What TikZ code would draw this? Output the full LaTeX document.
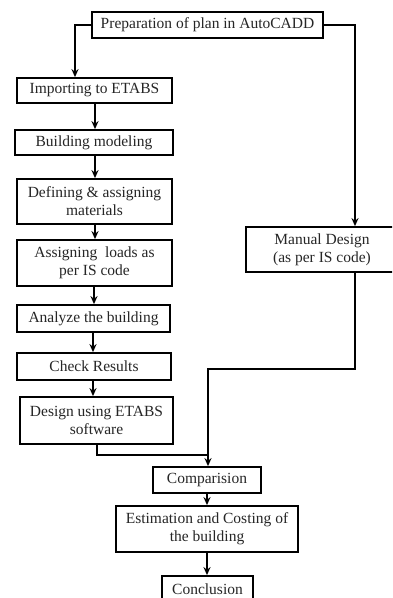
\documentclass[tikz,border=0pt]{standalone}
\usepackage{fontspec}
\setmainfont{Liberation Serif}
\usetikzlibrary{arrows.meta}
\begin{document}
\begin{tikzpicture}[x=1pt,y=-1pt,
  box/.style={draw=black,line width=1.8pt,fill=white,align=center,inner sep=2pt,
    text=black!85,font=\fontsize{15.5}{18}\selectfont},
  one/.style={box,minimum height=26pt},
  two/.style={box,minimum height=46pt},
  conn/.style={line width=1.6pt,draw=black},
  arr/.style={conn,-{Stealth[length=8pt,width=7pt]}}]
\useasboundingbox (0,0) rectangle (392,598);
\clip (0,0) rectangle (392,598);
\fill[white] (0,0) rectangle (392,598);
% nodes
\node[one,minimum width=231pt] (prep) at (207.5,25) {Preparation of plan in AutoCADD};
\node[one,minimum width=155pt,minimum height=25pt] (imp) at (94.5,90.5) {Importing to ETABS};
\node[one,minimum width=158pt,minimum height=25pt] (bm) at (94,142.5) {Building modeling};
\node[two,minimum width=155pt,minimum height=45pt] (def) at (94.5,201.5) {Defining \& assigning\\materials};
\node[two,minimum width=155pt] (ass) at (94.5,263) {Assigning~~loads as\\per IS code};
\node[one,minimum width=153pt,minimum height=27pt] (ana) at (93.5,318.5) {Analyze the building};
\node[one,minimum width=154pt,minimum height=27pt] (chk) at (94,366.5) {Check Results};
\node[two,minimum width=153pt,minimum height=47pt] (des) at (96.5,420.5) {Design using ETABS\\software};
\node[two,minimum width=152pt,minimum height=45pt] (man) at (322,249.5) {Manual Design\\(as per IS code)};
\node[one,minimum width=108pt] (comp) at (207,480) {Comparision};
\node[two,minimum width=182pt] (est) at (207,529) {Estimation and Costing of\\the building};
\node[one,minimum width=91pt] (conc) at (207.5,589) {Conclusion};
% coordinates
\coordinate (tl) at (75,25);
\coordinate (tr) at (355,25);
\coordinate (mb) at (355,369);
\coordinate (mj) at (208,369);
\coordinate (dj) at (97,455);
\coordinate (jn) at (208,455);
% connectors
\draw[arr] (prep.west) -- (tl) -- (tl |- imp.north);
\draw[arr] (prep.east) -- (tr) -- (tr |- man.north);
\draw[arr] (imp.south -| 95,0) -- (95,0 |- bm.north);
\draw[arr] (bm.south -| 95,0) -- (95,0 |- def.north);
\draw[arr] (def.south -| 95,0) -- (95,0 |- ass.north);
\draw[arr] (ass.south -| 94,0) -- (94,0 |- ana.north);
\draw[arr] (ana.south -| 93,0) -- (93,0 |- chk.north);
\draw[arr] (chk.south -| 93,0) -- (93,0 |- des.north);
\draw[conn] (man.south -| mb) -- (mb) -- (mj) -- (jn);
\draw[conn] (des.south -| dj) -- (dj) -- (jn);
\draw[arr] (jn) -- (jn |- comp.north);
\draw[arr] (comp.south -| 207,0) -- (207,0 |- est.north);
\draw[arr] (est.south -| 207,0) -- (207,0 |- conc.north);
\end{tikzpicture}
\end{document}
